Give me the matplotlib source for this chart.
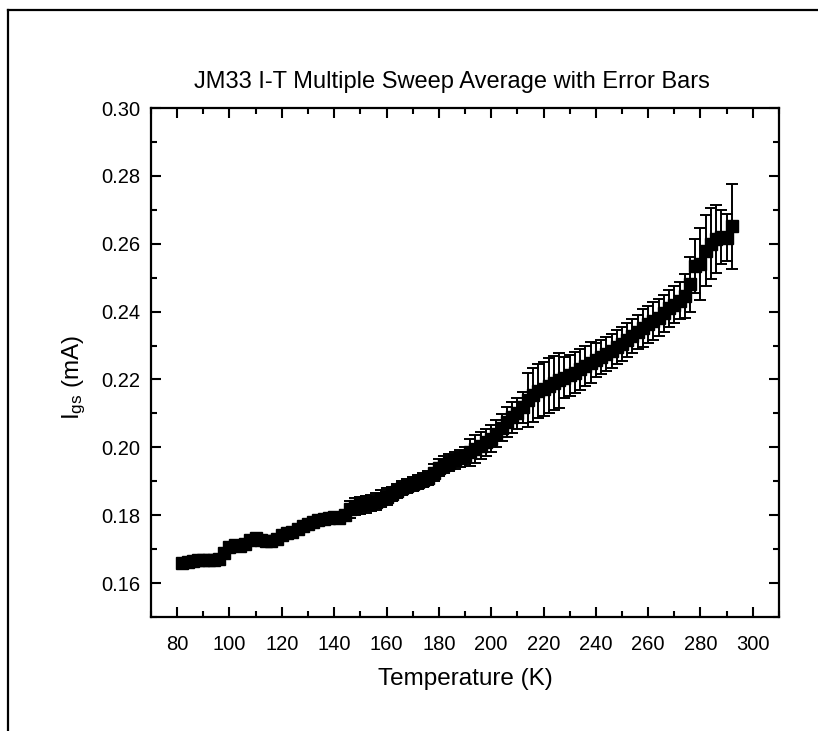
import matplotlib
matplotlib.use("Agg")
import matplotlib.pyplot as plt
from matplotlib.ticker import MultipleLocator, FormatStrFormatter
from matplotlib.lines import Line2D

plt.rcParams['font.family'] = ['Liberation Sans', 'DejaVu Sans']
plt.rcParams['mathtext.default'] = 'regular'

temperature = [82, 84, 86, 88, 90, 92, 94, 96, 98, 100,
               102, 104, 106, 108, 110, 112, 114, 116, 118, 120,
               122, 124, 126, 128, 130, 132, 134, 136, 138, 140,
               142, 144, 146, 148, 150, 152, 154, 156, 158, 160,
               162, 164, 166, 168, 170, 172, 174, 176, 178, 180,
               182, 184, 186, 188, 190, 192, 194, 196, 198, 200,
               202, 204, 206, 208, 210, 212, 214, 216, 218, 220,
               222, 224, 226, 228, 230, 232, 234, 236, 238, 240,
               242, 244, 246, 248, 250, 252, 254, 256, 258, 260,
               262, 264, 266, 268, 270, 272, 274, 276, 278, 280,
               282, 284, 286, 288, 290, 292]

current = [0.1660, 0.1662, 0.1664, 0.1667, 0.1668, 0.1667, 0.1668, 0.1672, 0.1690, 0.1705,
           0.1712, 0.1710, 0.1715, 0.1728, 0.1732, 0.1727, 0.1724, 0.1725, 0.1730, 0.1742,
           0.1748, 0.1750, 0.1758, 0.1768, 0.1775, 0.1780, 0.1785, 0.1790, 0.1792, 0.1795,
           0.1793, 0.1800, 0.1818, 0.1826, 0.1830, 0.1832, 0.1836, 0.1840, 0.1848, 0.1855,
           0.1862, 0.1872, 0.1880, 0.1886, 0.1892, 0.1898, 0.1903, 0.1910, 0.1925, 0.1940,
           0.1948, 0.1955, 0.1962, 0.1968, 0.1975, 0.1985, 0.1995, 0.2005, 0.2015, 0.2025,
           0.2040, 0.2058, 0.2075, 0.2088, 0.2100, 0.2118, 0.2140, 0.2155, 0.2165, 0.2172,
           0.2182, 0.2190, 0.2197, 0.2205, 0.2212, 0.2220, 0.2230, 0.2240, 0.2250, 0.2258,
           0.2265, 0.2275, 0.2285, 0.2295, 0.2305, 0.2315, 0.2328, 0.2340, 0.2352, 0.2362,
           0.2372, 0.2382, 0.2395, 0.2410, 0.2420, 0.2432, 0.2445, 0.2480, 0.2535, 0.2540,
           0.2580, 0.2600, 0.2615, 0.2620, 0.2618, 0.2652]

error = [0.0008, 0.0008, 0.0008, 0.0008, 0.0008, 0.0008, 0.0008, 0.0008, 0.0008, 0.0008,
         0.0008, 0.0008, 0.0008, 0.0008, 0.0012, 0.0012, 0.0012, 0.0010, 0.0010, 0.0010,
         0.0010, 0.0010, 0.0010, 0.0010, 0.0010, 0.0010, 0.0010, 0.0010, 0.0010, 0.0010,
         0.0010, 0.0010, 0.0025, 0.0025, 0.0025, 0.0025, 0.0025, 0.0025, 0.0025, 0.0025,
         0.0020, 0.0020, 0.0020, 0.0020, 0.0020, 0.0020, 0.0020, 0.0020, 0.0025, 0.0025,
         0.0025, 0.0025, 0.0025, 0.0025, 0.0025, 0.0040, 0.0040, 0.0040, 0.0040, 0.0040,
         0.0040, 0.0040, 0.0045, 0.0045, 0.0045, 0.0045, 0.0080, 0.0080, 0.0080, 0.0080,
         0.0080, 0.0080, 0.0080, 0.0060, 0.0060, 0.0060, 0.0060, 0.0060, 0.0060, 0.0050,
         0.0050, 0.0050, 0.0050, 0.0050, 0.0050, 0.0050, 0.0050, 0.0050, 0.0055, 0.0055,
         0.0055, 0.0055, 0.0055, 0.0055, 0.0055, 0.0055, 0.0065, 0.0080, 0.0080, 0.0105,
         0.0105, 0.0105, 0.0100, 0.0080, 0.0070, 0.0125]

W, H = 818, 731
fig = plt.figure(figsize=(W / 100, H / 100), dpi=100)
ax = fig.add_axes([151 / W, 1 - 617 / H, (779 - 151) / W, (617 - 108) / H])

ax.errorbar(temperature, current, yerr=error, fmt='s', color='black',
            markersize=8, elinewidth=1.4, capsize=4.5, capthick=1.4,
            ecolor='black', markeredgecolor='black')

ax.set_xlim(70, 310)
ax.set_ylim(0.15, 0.30)
ax.xaxis.set_minor_locator(MultipleLocator(10))
ax.yaxis.set_minor_locator(MultipleLocator(0.01))
ax.yaxis.set_major_formatter(FormatStrFormatter('%.2f'))
ax.set_xticks([80, 100, 120, 140, 160, 180, 200, 220, 240, 260, 280, 300])
ax.set_yticks([0.16, 0.18, 0.20, 0.22, 0.24, 0.26, 0.28, 0.30])

ax.tick_params(which='both', direction='in', top=True, right=True, width=1.5)
ax.tick_params(which='major', length=7.5)
ax.tick_params(which='minor', length=4)
ax.tick_params(axis='x', labelsize=14.5, pad=13)
ax.tick_params(axis='y', labelsize=14.5, pad=8)
for s in ax.spines.values():
    s.set_linewidth(1.6)

ax.set_xlabel('Temperature (K)', fontsize=17.5, labelpad=10)
ax.set_ylabel(r'I$_{gs}$ (mA)', fontsize=17.5)
ax.yaxis.set_label_coords(-0.1, 0.47)

fig.text(452 / W, 1 - 82 / H, 'JM33 I-T Multiple Sweep Average with Error Bars',
         ha='center', va='center', fontsize=17)

fig.add_artist(Line2D([8 / W, 1.0], [1 - 10 / H, 1 - 10 / H], color='black', lw=1.6,
                      transform=fig.transFigure))
fig.add_artist(Line2D([8 / W, 8 / W], [1 - 10 / H, 0.0], color='black', lw=1.6,
                      transform=fig.transFigure))

fig.savefig('out.png', dpi=100)
